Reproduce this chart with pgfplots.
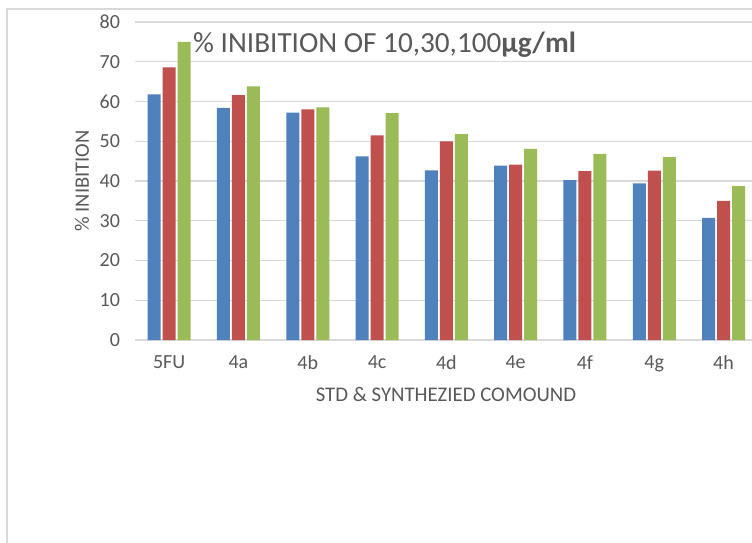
\documentclass[border=0pt]{standalone}
\usepackage{pgfplots}
\pgfplotsset{compat=1.18}
\usepackage{fontspec}
\setmainfont{Carlito}
\definecolor{cblue}{HTML}{4F81BD}
\definecolor{cred}{HTML}{C0504D}
\definecolor{cgreen}{HTML}{9BBB59}
\definecolor{ctext}{HTML}{595959}
\definecolor{cgrid}{HTML}{D9D9D9}
\begin{document}
\begin{tikzpicture}
\useasboundingbox (0pt,0pt) rectangle (752pt,542pt);
\clip (0pt,0pt) rectangle (752pt,542pt);
\fill[white] (0pt,0pt) rectangle (752pt,542pt);
\draw[cgrid, line width=1.3pt] (7pt,-10pt) rectangle (780pt,533pt);
\begin{axis}[
  at={(134.5pt,202pt)}, anchor=south west,
  scale only axis, width=623.7pt, height=318pt,
  xmin=-0.5, xmax=8.5, ymin=0, ymax=80,
  ytick={0,10,...,80},
  xtick={0,...,8},
  xticklabels={5FU,4a,4b,4c,4d,4e,4f,4g,4h},
  ybar=2pt, bar width=13pt,
  axis line style={draw=none},
  major tick length=0pt,
  ymajorgrids, grid style={cgrid, line width=1.3pt},
  tick label style={font=\fontsize{20}{24}\selectfont, text=ctext},
  /pgf/number format/assume math mode=true,
  xticklabel style={yshift=-12pt},
  yticklabel style={xshift=-11pt},
  ylabel={\% INIBITION},
  ylabel style={at={(axis description cs:-0.0842,0.5)}, anchor=center, font=\fontsize{20.5}{24}\selectfont, text=ctext},
  xlabel={STD \& SYNTHEZIED COMOUND},
  xlabel style={at={(axis description cs:0.4994,-0.170)}, anchor=center, font=\fontsize{20.8}{24}\selectfont, text=ctext},
]
\addplot[fill=cblue, draw=none] coordinates {(0,61.8) (1,58.4) (2,57.2) (3,46.2) (4,42.7) (5,43.9) (6,40.2) (7,39.4) (8,30.7)};
\addplot[fill=cred, draw=none] coordinates {(0,68.6) (1,61.6) (2,58.0) (3,51.5) (4,50.0) (5,44.1) (6,42.5) (7,42.6) (8,35.0)};
\addplot[fill=cgreen, draw=none] coordinates {(0,75.0) (1,63.8) (2,58.5) (3,57.1) (4,51.8) (5,48.1) (6,46.8) (7,46.0) (8,38.7)};
\end{axis}
\node[anchor=base west, inner sep=0pt, font=\fontsize{29.2}{35}\selectfont, text=ctext] at (193pt,489pt) {\% INIBITION OF 10,30,100\textbf{µg/ml}};
\end{tikzpicture}
\end{document}
